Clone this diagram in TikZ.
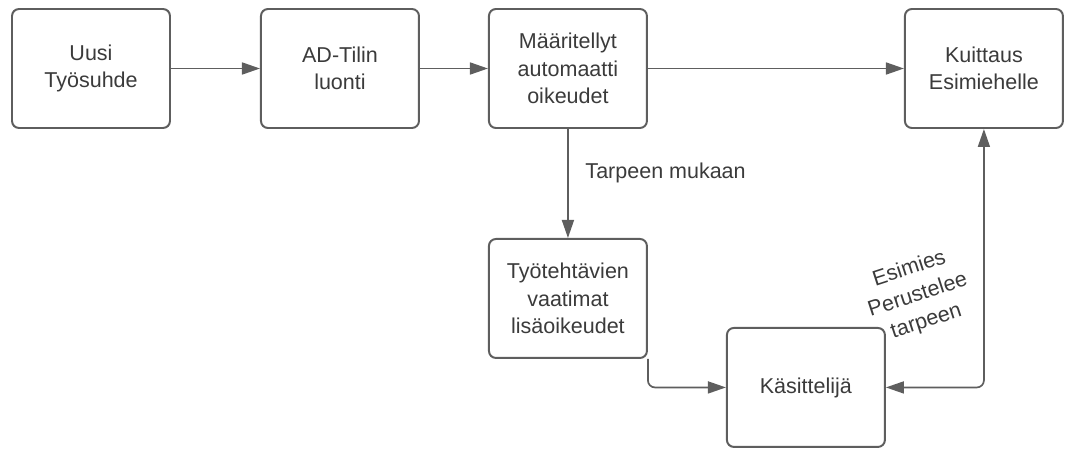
\documentclass[tikz,border=0pt]{standalone}
\usepackage{fontspec}
\setmainfont{Liberation Sans}
\usetikzlibrary{arrows.meta, positioning}
\definecolor{cline}{HTML}{5E5E5E}
\definecolor{ctext}{HTML}{3B3B3B}
\tikzset{
  every picture/.style={font=\fontsize{15.3pt}{19.6pt}\selectfont, line width=1.4pt},
  box/.style={draw=cline, fill=white, text=ctext, rounded corners=5pt, align=center, minimum width=3.95cm, minimum height=2.975cm, inner sep=4pt},
  arrow/.style={-{Triangle[length=4.5mm, width=3mm]}, draw=cline, line width=1.2pt},
  note/.style={text=ctext, align=center},
}

\begin{document}
\begin{tikzpicture}[node distance=2.225cm]
  \useasboundingbox (0,0) rectangle (26.65,-11.2);
  \node[box] (uusi) at (2.275,-1.7125) {Uusi\\Työsuhde};
  \node[box, right=of uusi] (ad) {AD-Tilin\\luonti};
  \node[box, right=1.7cm of ad] (maar) {Määritellyt\\automaatti\\oikeudet};
  \node[box, right=6.4cm of maar] (kuit) {Kuittaus\\Esimiehelle};
  \node[box, below=2.725cm of maar] (tyo) {Työtehtävien\\vaatimat\\lisäoikeudet};
  \node[box, below right=-0.8cm and 1.95cm of tyo] (kas) {Käsittelijä};
  \draw[arrow] (uusi) -- (ad);
  \draw[arrow] (ad) -- (maar);
  \draw[arrow] (maar) -- (kuit);
  \draw[arrow] (maar) -- node[note, pos=0.4, right=0.3cm] {Tarpeen mukaan} (tyo);
  \draw[arrow, rounded corners=5pt] (tyo.south east) |- (kas.west);
  \draw[arrow, {Triangle[length=4.5mm, width=3mm]}-{Triangle[length=4.5mm, width=3mm]}, rounded corners=5pt] (kas.east) -| node[note, pos=0.678, xshift=-1.65cm, rotate=18] {Esimies\\Perustelee\\tarpeen} (kuit.south);
\end{tikzpicture}
\end{document}
